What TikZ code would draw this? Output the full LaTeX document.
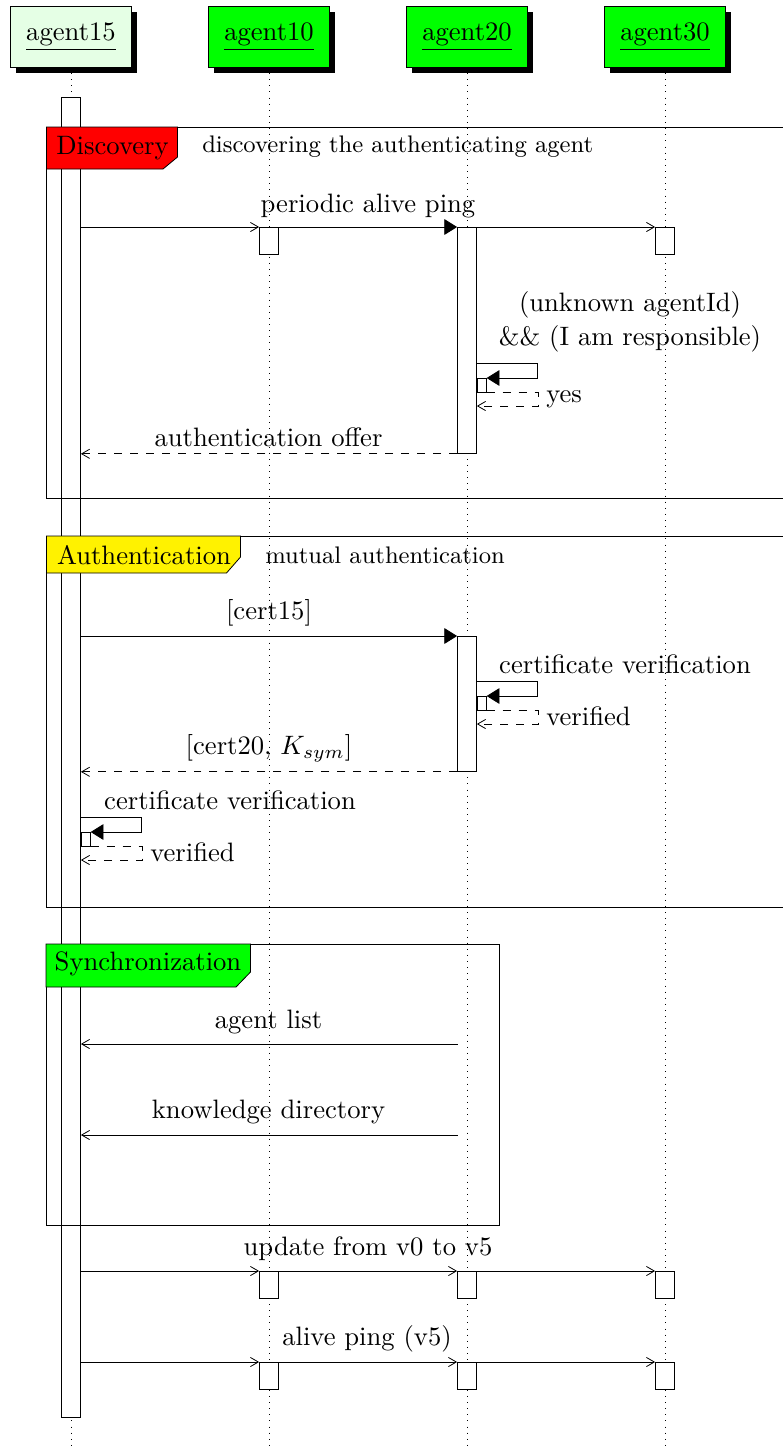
\documentclass[tikz,border=0pt]{standalone}
\usepackage{amsmath, amssymb}
\usepackage{tikz}
\usetikzlibrary{arrows, arrows.meta, shadows}

\newcommand{\upx}{0.0132cm}

\begin{document}
\begin{tikzpicture}[x=\upx, y=-\upx, line width=0.3pt]

\tikzset{inst/.style = {shape=rectangle,draw,minimum width=1.6cm,minimum height=0.8cm,fill=green,drop shadow={opacity=1,fill=black}}}
\tikzset{callbox/.style = {shape=rectangle,draw,fill=white,minimum width=0.25cm,inner sep=0pt,anchor=north}}
\tikzset{nestbox/.style = {shape=rectangle,draw,fill=white,minimum width=9*\upx,minimum height=14*\upx,inner sep=0pt,anchor=north west}}
\tikzset{lifeline/.style = {dotted}}
\tikzset{mess/.style = {->,>=angle 60}}
\tikzset{retmess/.style = {->,>=angle 60,dashed}}
\tikzset{call/.style = {-{Triangle[length=4.8pt,width=5.9pt]}}}

\useasboundingbox (0,0) rectangle (783,1449);
\clip (0,0) rectangle (783,1449);

% instances
\node[inst,fill=green!10] (i15) at (71,37) {\underline{agent15}};
\node[inst] (i10) at (269,37) {\underline{agent10}};
\node[inst] (i20) at (467,37) {\underline{agent20}};
\node[inst] (i30) at (665,37) {\underline{agent30}};

% lifelines
\draw[lifeline] (i15 |- 0,73) -- (i15 |- 0,1449);
\draw[lifeline] (i10 |- 0,73) -- (i10 |- 0,1449);
\draw[lifeline] (i20 |- 0,73) -- (i20 |- 0,1449);
\draw[lifeline] (i30 |- 0,73) -- (i30 |- 0,1449);

% activations
\node[callbox,minimum height=1320*\upx] (c15) at (i15 |- 0,97) {};
\node[callbox,minimum height=27*\upx] (c10a) at (i10 |- 0,227) {};
\node[callbox,minimum height=226*\upx] (c20a) at (i20 |- 0,227) {};
\node[callbox,minimum height=27*\upx] (c30a) at (i30 |- 0,227) {};
\node[callbox,minimum height=135*\upx] (c20b) at (i20 |- 0,636) {};
\node[callbox,minimum height=27*\upx] (c10u) at (i10 |- 0,1271) {};
\node[callbox,minimum height=27*\upx] (c20u) at (i20 |- 0,1271) {};
\node[callbox,minimum height=27*\upx] (c30u) at (i30 |- 0,1271) {};
\node[callbox,minimum height=27*\upx] (c10v) at (i10 |- 0,1362) {};
\node[callbox,minimum height=27*\upx] (c20v) at (i20 |- 0,1362) {};
\node[callbox,minimum height=27*\upx] (c30v) at (i30 |- 0,1362) {};
\node[nestbox] (n20a) at (c20a.east |- 0,378) {};
\node[nestbox] (n20b) at (c20b.east |- 0,696) {};
\node[nestbox] (n15) at (c15.east |- 0,832) {};

% frames
\draw (46.5,127) rectangle (900,498);
\draw[fill=red] (46.5,127) -| (177.5,157) -- (163,169) -- (46.5,169) -- cycle;
\node (ldisc) at (112.5,148) {Discovery};
\node[anchor=west,font=\small] (ddisc) at (193,147) {discovering the authenticating agent};

\draw (46.5,536) rectangle (900,907);
\draw[fill=yellow] (46.5,536) -| (240.5,557) -- (226.5,573) -- (46.5,573) -- cycle;
\node (lauth) at (144,555) {Authentication};
\node[anchor=west,font=\small] (dauth) at (256,555) {mutual authentication};

\draw (46,944) rectangle (499,1225);
\draw[fill=green] (46,944) -| (250.5,972) -- (236,987) -- (46,987) -- cycle;
\node (lsync) at (148,964) {Synchronization};

% messages
\draw[mess] (c15.east |- c10a.north) -- (c10a.north west);
\draw[call] (c10a.north east) -- (c20a.north west);
\draw[mess] (c20a.north east) -- (c30a.north west);
\node (lping) at (368,206) {periodic alive ping};

\draw[call] (c20a.east |- 0,363) -- ++(61,0) |- (n20a.north east);
\draw[retmess] (n20a.south east) -- ++(52,0) |- (c20a.east |- 0,406);
\node[align=center] (lresp) at (630,322) {(unknown agentId)\\[1pt]\&\& (I am responsible)};
\node[anchor=west] (lyes) at (537,399) {yes};

\draw[retmess] (c20a.south west) -- (c15.east |- c20a.south);
\node (loffer) at (268.5,437) {authentication offer};

\draw[call] (c15.east |- c20b.north) -- (c20b.north west);
\node (lcert15) at (269,613) {[cert15]};

\draw[call] (c20b.east |- 0,681) -- ++(61,0) |- (n20b.north east);
\draw[retmess] (n20b.south east) -- ++(52,0) |- (c20b.east |- 0,724);
\node (lverif20) at (625,664) {certificate verification};
\node[anchor=west] (lok20) at (537,716.5) {verified};

\draw[retmess] (c20b.south west) -- (c15.east |- c20b.south);
\node (lcert20) at (269,748) {[cert20, $K_{sym}$]};

\draw[call] (c15.east |- 0,817) -- ++(61,0) |- (n15.north east);
\draw[retmess] (n15.south east) -- ++(52,0) |- (c15.east |- 0,860);
\node (lverif15) at (230,800) {certificate verification};
\node[anchor=west] (lok15) at (141,852.5) {verified};

\coordinate (s20a) at (457.5,1044);
\coordinate (s20b) at (457.5,1135);
\draw[mess] (s20a) -- (c15.east |- s20a);
\node (llist) at (268.5,1022) {agent list};
\draw[mess] (s20b) -- (c15.east |- s20b);
\node (ldir) at (268.5,1112) {knowledge directory};

\draw[mess] (c15.east |- c10u.north) -- (c10u.north west);
\draw[mess] (c10u.north east) -- (c20u.north west);
\draw[mess] (c20u.north east) -- (c30u.north west);
\node (lupd) at (368,1249) {update from v0 to v5};

\draw[mess] (c15.east |- c10v.north) -- (c10v.north west);
\draw[mess] (c10v.north east) -- (c20v.north west);
\draw[mess] (c20v.north east) -- (c30v.north west);
\node (lalive) at (367,1339) {alive ping (v5)};

\end{tikzpicture}
\end{document}
